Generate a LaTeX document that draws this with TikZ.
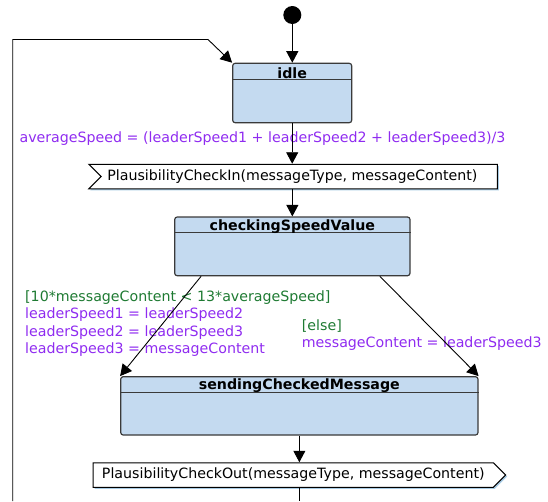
\documentclass[tikz,border=0pt]{standalone}
\usepackage{fontspec}
\setmainfont{DejaVu Sans}
\usetikzlibrary{arrows.meta,shapes.symbols,shadows}
\definecolor{statefill}{HTML}{C4DAF0}
\definecolor{stateline}{HTML}{3A3A3A}
\definecolor{effectcol}{HTML}{8F2BF0}
\definecolor{guardcol}{HTML}{1E7A32}
\definecolor{shadowcol}{HTML}{A8CBE4}
\begin{document}
\begin{tikzpicture}[x=1pt, y=-1pt,
    every node/.style={font=\fontsize{14.2}{17.5}\selectfont, inner sep=0pt},
    state/.style={draw=stateline, fill=statefill, line width=1.2pt, rounded corners=2.5pt},
    statetitle/.style={font=\fontsize{14.2}{17.5}\selectfont\bfseries},
    sig/.style={shape=signal, draw=black, fill=white, line width=1pt, minimum height=24.5pt,
      signal pointer angle=90, inner xsep=7pt,
      drop shadow={shadow xshift=1.5pt, shadow yshift=-1.5pt, fill=shadowcol, opacity=1}},
    trans/.style={-{Triangle[length=11.5pt,width=12pt]}, line width=0.9pt},
    effect/.style={text=effectcol, align=left}]
  \useasboundingbox (0,0) rectangle (548,501);
  \node[circle, fill=black, minimum size=18pt] (start) at (292.3,15) {};
  \node[state, minimum width=119pt, minimum height=59.4pt] (idle) at (292.2,93) {};
  \draw[stateline, line width=1.2pt] ([yshift=-17pt]idle.north west) -- ([yshift=-17pt]idle.north east);
  \node[statetitle] (idletitle) at ([yshift=-10.3pt]idle.north) {idle};
  \node[sig, signal from=west, signal to=nowhere, minimum width=408.5pt] (plausin) at (299.25,176.5)
    {\hspace*{-13.7pt}PlausibilityCheckIn(messageType, messageContent)};
  \node[state, minimum width=235.3pt, minimum height=58.7pt] (checking) at (292.35,246.35) {};
  \draw[stateline, line width=1.2pt] ([yshift=-16.3pt]checking.north west) -- ([yshift=-16.3pt]checking.north east);
  \node[statetitle] (checkingtitle) at ([yshift=-9.8pt]checking.north) {checkingSpeedValue};
  \node[state, minimum width=357.3pt, minimum height=58.3pt] (sending) at (299.35,405.85) {};
  \draw[stateline, line width=1.2pt] ([yshift=-16pt]sending.north west) -- ([yshift=-16pt]sending.north east);
  \node[statetitle] (sendingtitle) at ([yshift=-9.8pt]sending.north) {sendingCheckedMessage};
  \node[sig, signal to=east, minimum width=412.4pt] (plausout) at (293.3,475)
    {PlausibilityCheckOut(messageType, messageContent)};
  \node[effect] (avglabel) at (262.5,138.3)
    {averageSpeed = (leaderSpeed1 + leaderSpeed2 + leaderSpeed3)/3};
  \node[effect, anchor=west] (leftlabel) at (25,323.5)
    {\textcolor{guardcol}{[10*messageContent < 13*averageSpeed]}\\leaderSpeed1 = leaderSpeed2\\leaderSpeed2 = leaderSpeed3\\leaderSpeed3 = messageContent};
  \node[effect, anchor=west] (rightlabel) at (301.7,335.3)
    {\textcolor{guardcol}{[else]}\\messageContent = leaderSpeed3};
  \coordinate (outend) at (299.35,501);
  \coordinate (loopfoot) at (12.7,501);
  \coordinate (loopbend) at (208,39.5);
  \draw[trans] (start) -- (start |- idle.north);
  \draw[trans] (idle.south) -- (idle.south |- plausin.north);
  \draw[trans] (checking.north |- plausin.south) -- (checking.north);
  \draw[trans] ([xshift=27pt]checking.south west) -- (sending.north west);
  \draw[trans] ([xshift=-30.7pt]checking.south east) -- (sending.north east);
  \draw[trans] (sending.south) -- (sending.south |- plausout.north);
  \draw[line width=0.9pt] (sending.south |- plausout.south) -- (outend);
  \draw[trans] (loopfoot) |- (loopbend) -- (idle.north west);
\end{tikzpicture}
\end{document}
